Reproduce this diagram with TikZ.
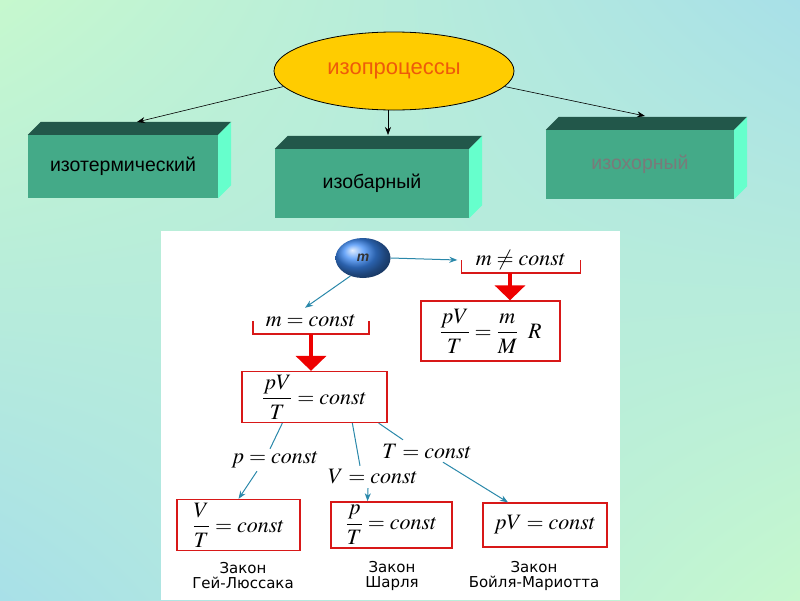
\documentclass[tikz,border=0pt]{standalone}
\usepackage{amsmath}
\usepackage{mathptmx}
\usepackage{fontspec}
\setmainfont{Liberation Sans}
\newfontfamily\lawfont{DejaVu Sans}
\usepackage{tikz}
\usepackage{xcolor}
\usetikzlibrary{calc, arrows.meta, shapes.geometric, shadings}

\definecolor{bggreen}{HTML}{C6F8CE}
\definecolor{bgblue}{HTML}{A8E0E8}
\definecolor{eggyellow}{HTML}{FFCC00}
\definecolor{eggtext}{HTML}{EE5A0A}
\definecolor{slabfront}{HTML}{44AA88}
\definecolor{slabtop}{HTML}{22574A}
\definecolor{slabside}{HTML}{66FFCC}
\definecolor{flowteal}{HTML}{2A88AA}
\definecolor{lawred}{HTML}{D81818}
\definecolor{fatred}{HTML}{EE0000}
\definecolor{ballblue}{HTML}{3C8AF5}

\begin{document}
\begin{tikzpicture}[x=1pt,y=-1pt,>={Stealth[length=8pt,width=6pt]},
    slab/.style={fill=slabfront, inner sep=0pt, font=\fontsize{19.5}{22}\selectfont},
    mathlbl/.style={inner sep=0pt, font=\fontsize{22}{26}\selectfont},
    lawbox/.style={draw=lawred, line width=1.3pt, fill=white, font=\fontsize{22}{26}\selectfont},
    flow/.style={flowteal, line width=1pt},
    fat/.style={fatred, line width=4pt, -{Triangle[width=30pt,length=15pt]}},
    law/.style={align=center, inner sep=0pt, font=\lawfont\fontsize{15}{15}\selectfont}]
        % background
        \shade[upper left=bggreen, upper right=bgblue, lower left=bgblue, lower right=bggreen]
            (0,0) rectangle (800,600);

        % top scheme
        \node[ellipse, draw, line width=0.8pt, fill=eggyellow, minimum width=240pt, minimum height=78pt,
            text=eggtext, font=\fontsize{22}{26}\selectfont] (procs) at (394,71) {изопроцессы};
        \node[slab, minimum width=190pt, minimum height=63pt] (therm) at (123,166.5) {изотермический};
        \node[slab, minimum width=194pt, minimum height=69pt] (bar) at (372,183.5) {изобарный};
        \node[slab, minimum width=188pt, minimum height=69pt, text=black!52] (chor) at (640,164.5) {изохорный};
        \foreach \s in {therm,bar,chor}{
            \fill[slabtop] (\s.north west) -- ++(13,-13) -- ($(\s.north east)+(13,-13)$) -- (\s.north east) -- cycle;
            \fill[slabside] (\s.north east) -- ++(13,-13) -- ($(\s.south east)+(13,-13)$) -- (\s.south east) -- cycle;
        }
        \coordinate (thermtop) at (137,122);
        \coordinate (bartop) at (388,135);
        \coordinate (chortop) at (645,116);
        \draw[->, line width=0.6pt] (procs.188) -- (thermtop);
        \draw[->, line width=0.6pt] (procs.south -| bartop) -- (bartop);
        \draw[->, line width=0.6pt] (procs.352) -- (chortop);

        % panel
        \fill[white] (161,231) rectangle (620,600);
        \node[ellipse, shade, ball color=ballblue, minimum width=55pt, minimum height=40pt, inner sep=0pt,
            text=black!80, font=\bfseries\itshape\fontsize{14}{16}\selectfont] (mass) at (363,258) {m};
        \node[mathlbl, minimum width=119pt, minimum height=26pt] (mvar) at (521,260) {$m \neq const$};
        \node[mathlbl, minimum width=116pt, minimum height=26pt] (mconst) at (311,321) {$m = const$};
        \foreach \s in {mvar,mconst}
            \draw[lawred, line width=1.5pt] (\s.west) -- (\s.south west) -- (\s.south east) -- (\s.east);
        \node[lawbox, minimum width=139pt, minimum height=60pt] (gas) at (490.5,331)
            {$\dfrac{pV}{T} = \dfrac{m}{M}\;\; R$};
        \node[lawbox, minimum width=145pt, minimum height=50pt] (ideal) at (314.5,397) {$\dfrac{pV}{T} = const$};

        \draw[->, flow] (mass.east) -- ([xshift=-4pt]mvar.west);
        \draw[->, flow] (mass.235) -- ([xshift=-6pt]mconst.north);
        \draw[fat] ([xshift=-11pt]mvar.south) coordinate (fa) -- (fa |- gas.north);
        \draw[fat] (mconst.south) -- (mconst.south |- ideal.north);

        % three laws
        \node[mathlbl, minimum height=22pt] (pconst) at (275,460) {$p = const$};
        \node[mathlbl, minimum height=22pt] (vconst) at (373,477) {$V = const$};
        \node[mathlbl, minimum height=22pt] (tconst) at (427,451) {$T = const$};
        \node[lawbox, minimum width=123pt, minimum height=44pt] (gay) at (238.5,525) {$\dfrac{V}{T} = const$};
        \node[lawbox, minimum width=121pt, minimum height=44pt] (charles) at (391.5,525) {$\dfrac{p}{T} = const$};
        \node[lawbox, minimum width=124pt, minimum height=44pt] (boyle) at (545,525) {$pV = const$};

        \draw[flow] ([xshift=41pt]ideal.south west) -- ([xshift=-5pt]pconst.north);
        \draw[->, flow] ([xshift=-18pt]pconst.south) -- (gay.north);
        \draw[flow] ([xshift=111pt]ideal.south west) -- ([xshift=-13pt]vconst.north);
        \draw[->, flow] ([xshift=-5pt]vconst.south) -- ([xshift=-24pt]charles.north);
        \draw[flow] ([xshift=-9pt]ideal.south east) -- ([xshift=-24pt]tconst.north);
        \draw[->, flow] ([xshift=16pt]tconst.south) -- ([xshift=-37pt]boyle.north);

        \node[law] (gaylaw) at (243,576) {Закон\\Гей-Люссака};
        \node[law] (charleslaw) at (392,576) {Закон\\Шарля};
        \node[law] (boylelaw) at (534,576) {Закон\\Бойля-Мариотта};
\end{tikzpicture}
\end{document}
